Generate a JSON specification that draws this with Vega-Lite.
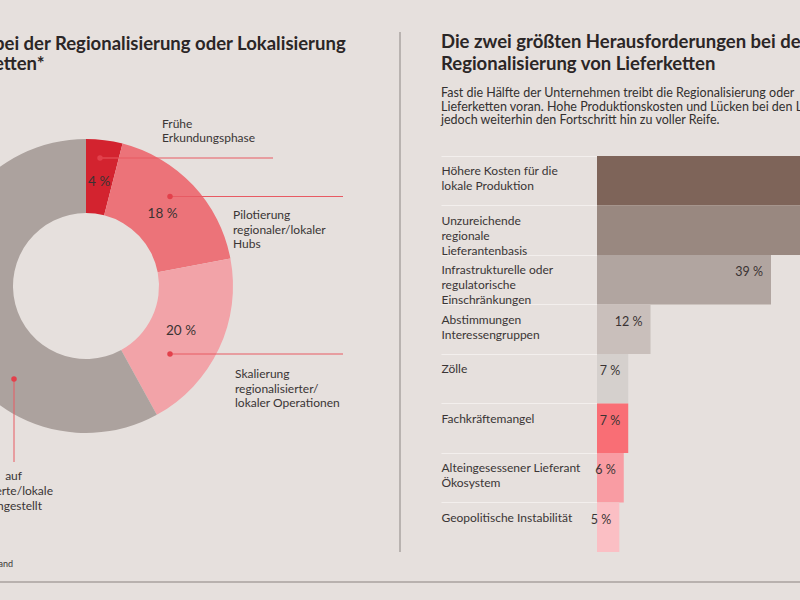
{
  "$schema": "https://vega.github.io/schema/vega-lite/v6.json",
  "width": 800,
  "height": 600,
  "padding": 0,
  "autosize": "none",
  "background": "#e6e0dd",
  "config": {"view": {"stroke": null}, "font": "Lato", "text": {"font": "Lato"}},
  "resolve": {"scale": {"x": "independent", "y": "independent", "color": "independent"}},
  "layer": [
    {
      "data": {"values": [{}]},
      "layer": [
        {
          "data": {"values": [
            {"segment": "Frühe Erkundungsphase", "value": 4, "label": "4 %", "rank": 1},
            {"segment": "Pilotierung regionaler/lokaler Hubs", "value": 18, "label": "18 %", "rank": 2},
            {"segment": "Skalierung regionalisierter/lokaler Operationen", "value": 20, "label": "20 %", "rank": 3},
            {"segment": "Vollständig auf regionalisierte/lokale Lieferketten umgestellt", "value": 58, "label": "58 %", "rank": 4}
          ]},
          "layer": [
            {
              "mark": {"type": "arc", "innerRadius": 73, "outerRadius": 147},
              "encoding": {
                "x": {"datum": 86, "scale": {"domain": [0, 800], "nice": false, "zero": false}, "axis": null},
                "y": {"datum": 286, "scale": {"domain": [600, 0], "nice": false, "zero": false}, "axis": null},
                "theta": {"field": "value", "type": "quantitative", "stack": true},
                "order": {"field": "rank", "type": "quantitative"},
                "color": {"field": "segment", "type": "nominal", "legend": null,
                  "scale": {"domain": ["Frühe Erkundungsphase", "Pilotierung regionaler/lokaler Hubs", "Skalierung regionalisierter/lokaler Operationen", "Vollständig auf regionalisierte/lokale Lieferketten umgestellt"],
                            "range": ["#d3232f", "#ec7379", "#f2a3a8", "#aca29e"]}}
              }
            },
            {
              "mark": {"type": "text", "radius": 105, "fontSize": 13.5, "color": "#3a3333", "baseline": "middle", "align": "center"},
              "encoding": {
                "x": {"datum": 86, "scale": {"domain": [0, 800], "nice": false, "zero": false}, "axis": null},
                "y": {"datum": 286, "scale": {"domain": [600, 0], "nice": false, "zero": false}, "axis": null},
                "theta": {"field": "value", "type": "quantitative", "stack": true},
                "order": {"field": "rank", "type": "quantitative"},
                "text": {"field": "label"}
              }
            }
          ]
        },
        {
          "mark": {"type": "rule", "color": "#e85a63", "strokeWidth": 1},
          "encoding": {"x": {"datum": 100, "scale": {"domain": [0, 800], "nice": false, "zero": false}, "axis": null}, "x2": {"datum": 273},
                       "y": {"datum": 158, "scale": {"domain": [600, 0], "nice": false, "zero": false}, "axis": null}}
        },
        {
          "mark": {"type": "rule", "color": "#e85a63", "strokeWidth": 1},
          "encoding": {"x": {"datum": 170, "scale": {"domain": [0, 800], "nice": false, "zero": false}, "axis": null}, "x2": {"datum": 343},
                       "y": {"datum": 196.5, "scale": {"domain": [600, 0], "nice": false, "zero": false}, "axis": null}}
        },
        {
          "mark": {"type": "rule", "color": "#e85a63", "strokeWidth": 1},
          "encoding": {"x": {"datum": 170, "scale": {"domain": [0, 800], "nice": false, "zero": false}, "axis": null}, "x2": {"datum": 343},
                       "y": {"datum": 354, "scale": {"domain": [600, 0], "nice": false, "zero": false}, "axis": null}}
        },
        {
          "mark": {"type": "rule", "color": "#e85a63", "strokeWidth": 1},
          "encoding": {"x": {"datum": 14, "scale": {"domain": [0, 800], "nice": false, "zero": false}, "axis": null},
                       "y": {"datum": 379, "scale": {"domain": [600, 0], "nice": false, "zero": false}, "axis": null}, "y2": {"datum": 462}}
        },
        {
          "mark": {"type": "rule", "color": "#aaa4a1", "strokeWidth": 1.5},
          "encoding": {"x": {"datum": 400, "scale": {"domain": [0, 800], "nice": false, "zero": false}, "axis": null},
                       "y": {"datum": 32, "scale": {"domain": [600, 0], "nice": false, "zero": false}, "axis": null}, "y2": {"datum": 552}}
        },
        {
          "mark": {"type": "rule", "color": "#a9a29e", "strokeWidth": 1.5},
          "encoding": {"x": {"datum": 0, "scale": {"domain": [0, 800], "nice": false, "zero": false}, "axis": null}, "x2": {"datum": 800},
                       "y": {"datum": 582, "scale": {"domain": [600, 0], "nice": false, "zero": false}, "axis": null}}
        },
        {
          "mark": {"type": "circle", "size": 30, "color": "#e3404b", "opacity": 1},
          "encoding": {"x": {"datum": 100, "scale": {"domain": [0, 800], "nice": false, "zero": false}, "axis": null},
                       "y": {"datum": 158, "scale": {"domain": [600, 0], "nice": false, "zero": false}, "axis": null}}
        },
        {
          "mark": {"type": "circle", "size": 30, "color": "#e3404b", "opacity": 1},
          "encoding": {"x": {"datum": 170, "scale": {"domain": [0, 800], "nice": false, "zero": false}, "axis": null},
                       "y": {"datum": 196.5, "scale": {"domain": [600, 0], "nice": false, "zero": false}, "axis": null}}
        },
        {
          "mark": {"type": "circle", "size": 30, "color": "#e3404b", "opacity": 1},
          "encoding": {"x": {"datum": 170, "scale": {"domain": [0, 800], "nice": false, "zero": false}, "axis": null},
                       "y": {"datum": 354, "scale": {"domain": [600, 0], "nice": false, "zero": false}, "axis": null}}
        },
        {
          "mark": {"type": "circle", "size": 30, "color": "#e3404b", "opacity": 1},
          "encoding": {"x": {"datum": 14, "scale": {"domain": [0, 800], "nice": false, "zero": false}, "axis": null},
                       "y": {"datum": 379, "scale": {"domain": [600, 0], "nice": false, "zero": false}, "axis": null}}
        },
        {
          "mark": {"type": "text", "align": "left", "baseline": "alphabetic", "fontSize": 18.5, "fontWeight": "bold", "color": "#2b2626", "lineHeight": 20},
          "encoding": {"x": {"datum": -6, "scale": {"domain": [0, 800], "nice": false, "zero": false}, "axis": null},
                       "y": {"datum": 50, "scale": {"domain": [600, 0], "nice": false, "zero": false}, "axis": null},
                       "text": {"value": ["bei der Regionalisierung oder Lokalisierung", "etten*"]}}
        },
        {
          "mark": {"type": "text", "align": "left", "baseline": "alphabetic", "fontSize": 18.5, "fontWeight": "bold", "color": "#2b2626", "lineHeight": 22},
          "encoding": {"x": {"datum": 441, "scale": {"domain": [0, 800], "nice": false, "zero": false}, "axis": null},
                       "y": {"datum": 48, "scale": {"domain": [600, 0], "nice": false, "zero": false}, "axis": null},
                       "text": {"value": ["Die zwei größten Herausforderungen bei den", "Regionalisierung von Lieferketten"]}}
        },
        {
          "mark": {"type": "text", "align": "left", "baseline": "alphabetic", "fontSize": 12.5, "color": "#333030", "lineHeight": 13.7},
          "encoding": {"x": {"datum": 441, "scale": {"domain": [0, 800], "nice": false, "zero": false}, "axis": null},
                       "y": {"datum": 97, "scale": {"domain": [600, 0], "nice": false, "zero": false}, "axis": null},
                       "text": {"value": ["Fast die Hälfte der Unternehmen treibt die Regionalisierung oder", "Lieferketten voran. Hohe Produktionskosten und Lücken bei den L", "jedoch weiterhin den Fortschritt hin zu voller Reife."]}}
        },
        {
          "mark": {"type": "text", "align": "left", "baseline": "alphabetic", "fontSize": 12, "color": "#3a3535", "lineHeight": 13.5},
          "encoding": {"x": {"datum": 162, "scale": {"domain": [0, 800], "nice": false, "zero": false}, "axis": null},
                       "y": {"datum": 128, "scale": {"domain": [600, 0], "nice": false, "zero": false}, "axis": null},
                       "text": {"value": ["Frühe", "Erkundungsphase"]}}
        },
        {
          "mark": {"type": "text", "align": "left", "baseline": "alphabetic", "fontSize": 12, "color": "#3a3535", "lineHeight": 14.5},
          "encoding": {"x": {"datum": 233, "scale": {"domain": [0, 800], "nice": false, "zero": false}, "axis": null},
                       "y": {"datum": 219, "scale": {"domain": [600, 0], "nice": false, "zero": false}, "axis": null},
                       "text": {"value": ["Pilotierung", "regionaler/lokaler", "Hubs"]}}
        },
        {
          "mark": {"type": "text", "align": "left", "baseline": "alphabetic", "fontSize": 12, "color": "#3a3535", "lineHeight": 14.5},
          "encoding": {"x": {"datum": 235, "scale": {"domain": [0, 800], "nice": false, "zero": false}, "axis": null},
                       "y": {"datum": 378, "scale": {"domain": [600, 0], "nice": false, "zero": false}, "axis": null},
                       "text": {"value": ["Skalierung", "regionalisierter/", "lokaler Operationen"]}}
        },
        {
          "mark": {"type": "text", "align": "right", "baseline": "alphabetic", "fontSize": 12, "color": "#3a3535", "lineHeight": 15},
          "encoding": {"x": {"datum": 53, "scale": {"domain": [0, 800], "nice": false, "zero": false}, "axis": null},
                       "y": {"datum": 495, "scale": {"domain": [600, 0], "nice": false, "zero": false}, "axis": null},
                       "text": {"value": "erte/lokale"}}
        },
        {
          "mark": {"type": "text", "align": "right", "baseline": "alphabetic", "fontSize": 12, "color": "#3a3535"},
          "encoding": {"x": {"datum": 22, "scale": {"domain": [0, 800], "nice": false, "zero": false}, "axis": null},
                       "y": {"datum": 480, "scale": {"domain": [600, 0], "nice": false, "zero": false}, "axis": null},
                       "text": {"value": "auf"}}
        },
        {
          "mark": {"type": "text", "align": "right", "baseline": "alphabetic", "fontSize": 12, "color": "#3a3535"},
          "encoding": {"x": {"datum": 42, "scale": {"domain": [0, 800], "nice": false, "zero": false}, "axis": null},
                       "y": {"datum": 510, "scale": {"domain": [600, 0], "nice": false, "zero": false}, "axis": null},
                       "text": {"value": "ngestellt"}}
        },
        {
          "mark": {"type": "text", "align": "right", "baseline": "alphabetic", "fontSize": 9, "color": "#3a3535"},
          "encoding": {"x": {"datum": 13, "scale": {"domain": [0, 800], "nice": false, "zero": false}, "axis": null},
                       "y": {"datum": 567, "scale": {"domain": [600, 0], "nice": false, "zero": false}, "axis": null},
                       "text": {"value": "and"}}
        }
      ]
    },
    {
      "data": {"values": [
        {"challenge": "Höhere Kosten für die\nlokale Produktion", "value": 60, "label": "60 %"},
        {"challenge": "Unzureichende\nregionale\nLieferantenbasis", "value": 56, "label": "56 %"},
        {"challenge": "Infrastrukturelle oder\nregulatorische\nEinschränkungen", "value": 39, "label": "39 %"},
        {"challenge": "Abstimmungen\nInteressengruppen", "value": 12, "label": "12 %"},
        {"challenge": "Zölle", "value": 7, "label": "7 %"},
        {"challenge": "Fachkräftemangel", "value": 7, "label": "7 %"},
        {"challenge": "Alteingesessener Lieferant\nÖkosystem", "value": 6, "label": "6 %"},
        {"challenge": "Geopolitische Instabilität", "value": 5, "label": "5 %"}
      ]},
      "layer": [
        {
          "mark": {"type": "bar"},
          "encoding": {
            "y": {"field": "challenge", "type": "nominal", "sort": null,
                  "scale": {"range": [156, 552], "paddingInner": 0, "paddingOuter": 0},
                  "axis": {"orient": "left", "offset": -597, "title": null, "domain": false, "grid": false,
                           "ticks": true, "tickSize": 156, "tickColor": "#f3efed", "tickWidth": 1.2, "bandPosition": 0,
                           "labelAlign": "left", "labelBaseline": "top", "labelPadding": 0, "labelOffset": -14.5,
                           "labelFont": "Lato", "labelFontSize": 12, "labelColor": "#3a3535", "labelLineHeight": 15,
                           "labelExpr": "split(datum.label, '\\n')", "labelLimit": 0, "labelOverlap": false, "labelBound": false}},
            "x": {"field": "value", "type": "quantitative", "scale": {"domain": [0, 45.5], "range": [597, 800], "nice": false, "zero": true}, "axis": null},
            "color": {"field": "challenge", "type": "nominal", "legend": null,
                      "scale": {"domain": ["Höhere Kosten für die\nlokale Produktion", "Unzureichende\nregionale\nLieferantenbasis", "Infrastrukturelle oder\nregulatorische\nEinschränkungen", "Abstimmungen\nInteressengruppen", "Zölle", "Fachkräftemangel", "Alteingesessener Lieferant\nÖkosystem", "Geopolitische Instabilität"],
                                "range": ["#7e6459", "#998880", "#b1a5a0", "#c9bfbb", "#d5d0cd", "#f96e75", "#f99ca3", "#fbbfc4"]}}
          }
        },
        {
          "mark": {"type": "text", "align": "right", "baseline": "top", "dx": -8, "dy": 11, "fontSize": 12.5, "color": "#3a3333"},
          "encoding": {
            "y": {"field": "challenge", "type": "nominal", "sort": null, "bandPosition": 0},
            "x": {"field": "value", "type": "quantitative"},
            "text": {"field": "label"}
          }
        }
      ]
    }
  ]
}
